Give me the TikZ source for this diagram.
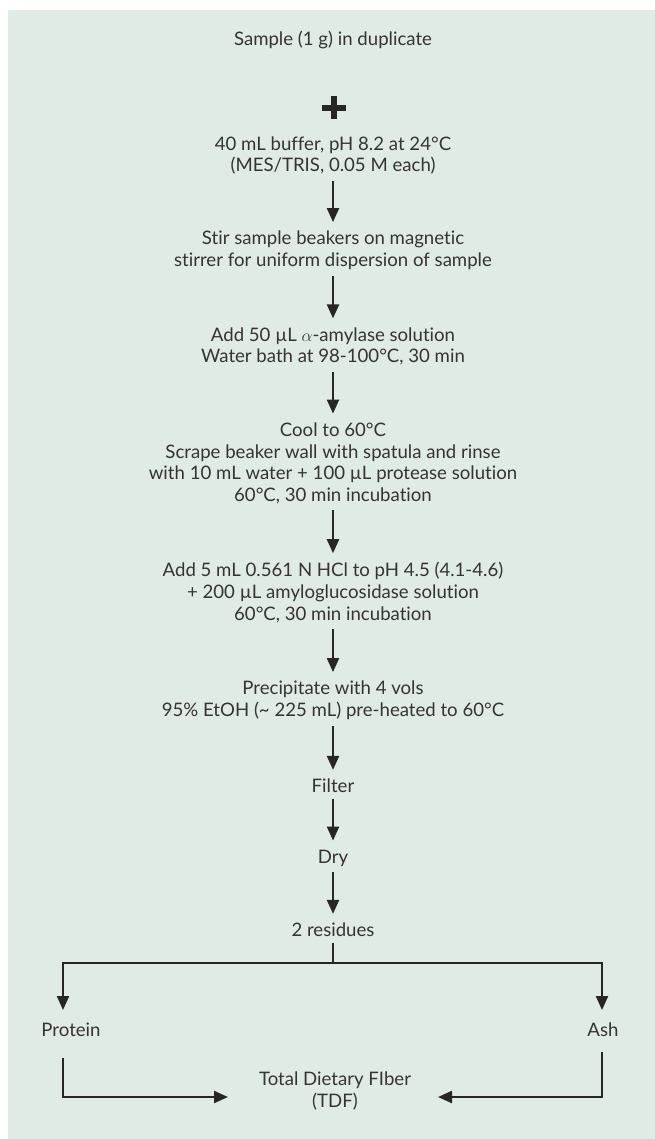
\documentclass[tikz,border=0pt]{standalone}
\usepackage{fontspec}
\setmainfont[Ligatures={NoCommon}]{Lato}
\usetikzlibrary{arrows.meta}
\definecolor{bgmint}{HTML}{DFEBE4}
\definecolor{inkgray}{HTML}{363432}
\begin{document}
\begin{tikzpicture}[x=1pt,y=-1pt,
  steptext/.style={align=center,text=inkgray,inner xsep=2pt,inner ysep=6pt,
    font=\fontsize{18.6}{21.6}\selectfont},
  flow/.style={draw=black!85,line width=2.2pt,-{Triangle[width=12pt,length=14pt]},shorten >=3pt}]
\useasboundingbox (0,0) rectangle (655,1139);
\fill[bgmint] (8,10) rectangle (655,1139);
% main chain
\node[steptext] (sample) at (333,40) {Sample (1 g) in duplicate};
\coordinate (plus) at (334,108);
\draw[black!85,line width=6.5pt] ([xshift=-12pt]plus) -- ([xshift=12pt]plus)
  ([yshift=11.5pt]plus) -- ([yshift=-11.5pt]plus);
\node[steptext] (buffer) at (333,155.5) {40 mL buffer, pH 8.2 at 24°C\\(MES/TRIS, 0.05 M each)};
\node[steptext] (stir) at (333,250.5) {Stir sample beakers on magnetic\\stirrer for uniform dispersion of sample};
\node[steptext] (amylase) at (333,346.5) {Add 50 µL $\alpha$-amylase solution\\Water bath at 98-100°C, 30 min};
\node[steptext] (cool) at (333,463.3) {Cool to 60°C\\Scrape beaker wall with spatula and rinse\\with 10 mL water + 100 µL protease solution\\60°C, 30 min incubation};
\node[steptext] (hcl) at (333,592.5) {Add 5 mL 0.561 N HCl to pH 4.5 (4.1-4.6)\\+ 200 µL amyloglucosidase solution\\60°C, 30 min incubation};
\node[steptext] (precip) at (333,700.5) {Precipitate with 4 vols\\95\% EtOH (\textasciitilde{} 225 mL) pre-heated to 60°C};
\node[steptext] (filter) at (333,786) {Filter};
\node[steptext] (dry) at (333,858) {Dry};
\node[steptext] (resid) at (333,930) {2 residues};
% branches
\node[steptext] (protein) at (71,1030) {Protein};
\node[steptext] (ash) at (603,1030) {Ash};
\node[steptext] (tdf) at (335,1091) {Total Dietary FIber\\(TDF)};
\coordinate (split) at (333,963);
\coordinate (pturn) at (63,1097);
\coordinate (aturn) at (602,1097);

\foreach \a/\b in {buffer/stir,stir/amylase,amylase/cool,cool/hcl,hcl/precip,
  precip/filter,filter/dry,dry/resid}
  \draw[flow] (\a) -- (\b);
\draw[flow,shorten >=0pt] (resid) -- (split) -| (63,1010);
\draw[flow,shorten >=0pt] (split) -| (602,1010);
\draw[flow,shorten >=0pt] (63,1058) -- (pturn) -- (228,1097);
\draw[flow,shorten >=0pt] (602,1052) -- (aturn) -- (438,1097);
\end{tikzpicture}
\end{document}
